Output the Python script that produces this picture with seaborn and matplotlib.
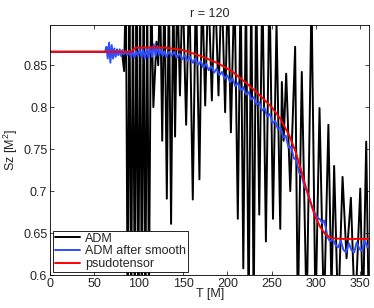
import matplotlib
matplotlib.use('Agg')
import matplotlib.pyplot as plt
import seaborn as sns
import pandas as pd

# ADM (raw) - extremes
t_adm = [0, 80, 81.5, 83.5, 85.5, 87.5, 89.5, 91.5, 93.5, 95.5, 97.5, 99.5, 101.5, 103.5,
         105.5, 107.5, 109.5, 111.5, 114, 116.5, 120, 122, 124, 126.5, 129, 131.7, 134,
         136.5, 139, 141, 143.5, 146.5, 149.5, 153.5, 157, 161, 164.5, 168.5, 171.5, 175,
         178.5, 182.5, 186, 190, 193.5, 197.5, 200.5, 204, 208, 211.8, 215, 218, 221, 224,
         227, 229.7, 232.5, 236, 239.5, 243.5, 247.5, 251.5, 255.5, 259.7, 261.5, 263.5,
         266.4, 271, 276.5, 279.5, 284, 289.5, 295, 299.5, 304, 309, 314, 317.5, 320.5,
         325, 330, 334.5, 339.4, 344, 350, 353, 356.7, 359.5, 360]
sz_adm = [0.866, 0.866, 0.862, 0.843, 0.95, 0.55, 0.95, 0.55, 0.95, 0.55, 0.95, 0.55, 0.95, 0.55,
          0.95, 0.55, 0.95, 0.57, 0.95, 0.80, 0.878, 0.85, 0.95, 0.76, 0.95, 0.691, 0.95,
          0.661, 0.95, 0.765, 0.95, 0.814, 0.95, 0.779, 0.95, 0.69, 0.95, 0.714, 0.95, 0.802,
          0.95, 0.808, 0.95, 0.814, 0.95, 0.794, 0.95, 0.77, 0.95, 0.667, 0.95, 0.608, 0.95, 0.55,
          0.95, 0.55, 0.95, 0.672, 0.95, 0.64, 0.95, 0.667, 0.90, 0.655, 0.83, 0.76,
          0.84, 0.70, 0.872, 0.55, 0.842, 0.55, 0.93, 0.55, 0.799, 0.55, 0.779, 0.58, 0.73,
          0.55, 0.717, 0.62, 0.692, 0.55, 0.703, 0.55, 0.759, 0.56, 0.58]

# ADM after smooth
t_smooth = [0, 62, 63.5, 65, 66.5, 68, 69.5, 71, 72.5, 74, 75.5, 77, 78.5, 80, 81.5, 83, 85, 87,
            89, 91, 93, 95, 97, 99, 101, 103, 105, 107, 109, 111, 113, 115, 117, 119, 121,
            123, 125, 127, 129, 131, 134, 137, 140, 143, 146, 149, 152, 155, 158, 161, 164,
            167, 170, 173, 176, 179, 182, 185, 188, 191, 194, 197, 200, 203, 206, 209, 212,
            215, 218, 221, 224, 227, 230, 233, 236, 239, 242, 245, 248, 251, 254, 257, 260,
            263, 266, 269, 272, 275, 278, 281, 284, 287, 290, 293, 296, 299, 302, 305, 307,
            309, 311, 313, 316, 319, 322, 325, 328, 331, 334, 337, 340, 343, 346, 349, 352,
            355, 358, 360]
sz_smooth = [0.866, 0.866, 0.872, 0.858, 0.877, 0.853, 0.874, 0.858, 0.870, 0.860, 0.869, 0.862,
             0.869, 0.861, 0.868, 0.863, 0.867, 0.862, 0.867, 0.860, 0.866, 0.859, 0.867, 0.861,
             0.869, 0.860, 0.868, 0.858, 0.870, 0.859, 0.872, 0.860, 0.875, 0.861, 0.873, 0.862,
             0.869, 0.861, 0.867, 0.860, 0.866, 0.861, 0.866, 0.859, 0.864, 0.857, 0.862, 0.855,
             0.860, 0.853, 0.858, 0.850, 0.855, 0.847, 0.852, 0.844, 0.849, 0.841, 0.846, 0.838,
             0.842, 0.834, 0.838, 0.830, 0.834, 0.825, 0.829, 0.820, 0.824, 0.815, 0.818, 0.809,
             0.812, 0.803, 0.806, 0.796, 0.799, 0.789, 0.792, 0.781, 0.784, 0.774, 0.776, 0.764,
             0.766, 0.752, 0.753, 0.739, 0.737, 0.722, 0.718, 0.705, 0.700, 0.690, 0.680, 0.673,
             0.668, 0.666, 0.662, 0.665, 0.657, 0.645, 0.640, 0.643, 0.636, 0.633, 0.641, 0.630,
             0.627, 0.638, 0.630, 0.627, 0.639, 0.631, 0.629, 0.641, 0.633, 0.637]

# pseudotensor
t_pseudo = [0, 92, 94, 97, 130, 150, 170, 190, 205, 220, 235, 250, 260, 270, 277, 283, 289,
            294, 299, 305, 311, 318, 330, 360]
sz_pseudo = [0.866, 0.866, 0.869, 0.871, 0.871, 0.868, 0.861, 0.852, 0.843, 0.830, 0.816,
             0.800, 0.786, 0.766, 0.747, 0.726, 0.703, 0.686, 0.670, 0.657, 0.648, 0.644,
             0.643, 0.643]

sns.set_style('ticks')
plt.rcParams['font.family'] = ['Liberation Sans', 'DejaVu Sans']
plt.rcParams['mathtext.fontset'] = 'custom'
plt.rcParams['mathtext.rm'] = 'Liberation Sans'

fig = plt.figure(figsize=(3.74, 3.08), dpi=100)
ax = fig.add_axes([0.134, 0.107, 0.853, 0.812])

sns.lineplot(x=t_adm, y=sz_adm, ax=ax, color='black', lw=1.4, label='ADM',
             estimator=None, sort=False)
sns.lineplot(x=t_smooth, y=sz_smooth, ax=ax, color='#2f4fff', lw=1.4, label='ADM after smooth',
             estimator=None, sort=False)
sns.lineplot(x=t_pseudo, y=sz_pseudo, ax=ax, color='#ff0000', lw=1.4, label='psudotensor',
             estimator=None, sort=False)

ax.set_xlim(0, 360)
ax.set_ylim(0.6, 0.898)
ax.set_xticks([0, 50, 100, 150, 200, 250, 300, 350])
ax.set_yticks([0.6, 0.65, 0.7, 0.75, 0.8, 0.85])
ax.set_yticklabels(['0.6', '0.65', '0.7', '0.75', '0.8', '0.85'])
ax.tick_params(direction='in', top=True, right=True, labelsize=9, length=3, width=0.6, pad=2)
for s in ax.spines.values():
    s.set_linewidth(0.6)
    s.set_color('black')

ax.set_xlabel('T [M]', fontsize=9, labelpad=-1)
ax.set_ylabel('Sz [M$^2$]', fontsize=9, labelpad=2)
ax.set_title('r = 120', fontsize=9, pad=6)

leg = ax.legend(loc='lower left', fontsize=9, fancybox=False, edgecolor='black', framealpha=1,
                handlelength=2.0, labelspacing=0.05, borderaxespad=0.25, borderpad=0.15,
                handletextpad=0.4)
leg.get_frame().set_linewidth(0.6)

fig.savefig('out.png', dpi=100)
